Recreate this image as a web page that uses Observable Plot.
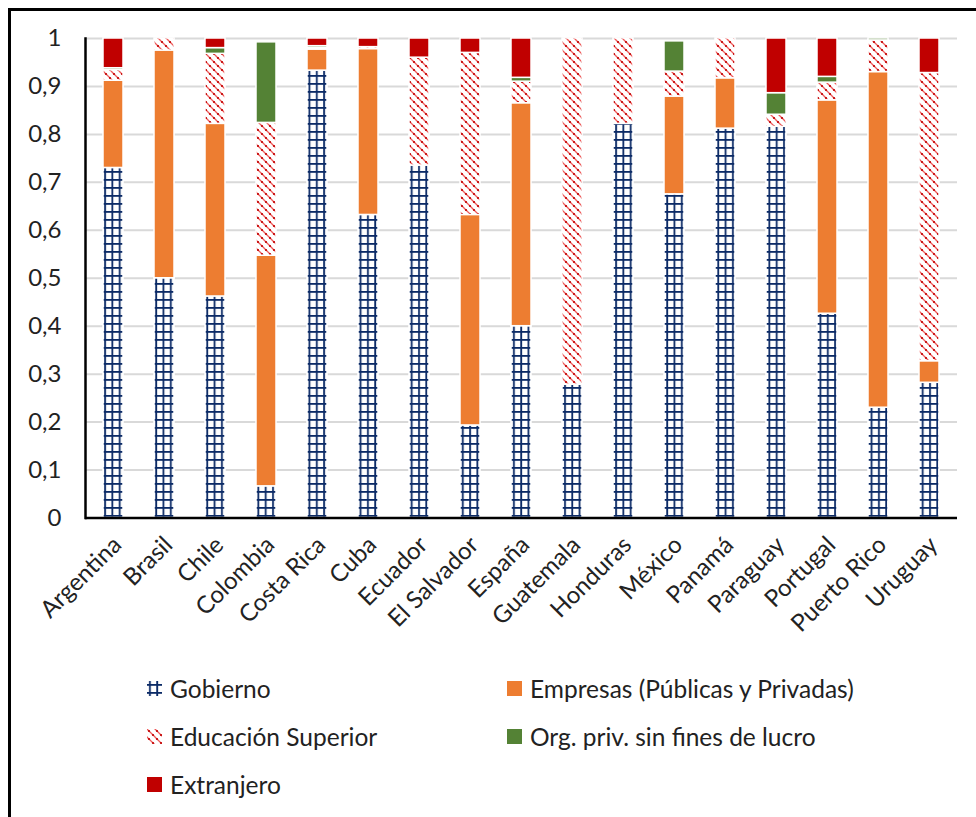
<!DOCTYPE html>
<html>
<head>
<meta charset="utf-8">
<script src="https://cdn.jsdelivr.net/npm/d3@7"></script>
<script src="https://cdn.jsdelivr.net/npm/@observablehq/plot@0.6"></script>
<style>
  html, body { margin: 0; padding: 0; background: #fff; }
  body { width: 976px; height: 817px; position: relative; overflow: hidden; font-family: Lato, "Noto Sans", sans-serif; }
  #frame { position: absolute; left: 8px; top: 8px; width: 1000px; height: 900px; border: 3px solid #000; box-sizing: border-box; }
  #chart { position: absolute; left: 0; top: 0; }
  .leg { position: absolute; display: flex; align-items: center; font-size: 24.5px; color: #222; white-space: nowrap; }
  .leg svg { margin-right: 8px; }
</style>
</head>
<body>
<div id="frame"></div>
<div id="chart"></div>
<div id="legend"></div>
<script>
const countries = ["Argentina","Brasil","Chile","Colombia","Costa Rica","Cuba","Ecuador","El Salvador","España","Guatemala","Honduras","México","Panamá","Paraguay","Portugal","Puerto Rico","Uruguay"];
const seriesNames = ["Gobierno","Empresas (Públicas y Privadas)","Educación Superior","Org. priv. sin fines de lucro","Extranjero"];
const gobierno   = [0.730,0.500,0.462,0.066,0.933,0.632,0.735,0.193,0.400,0.278,0.822,0.675,0.812,0.816,0.426,0.230,0.282];
const empresas   = [0.182,0.475,0.360,0.481,0.044,0.346,0.000,0.439,0.465,0.000,0.000,0.204,0.105,0.000,0.445,0.700,0.045];
const educacion  = [0.022,0.025,0.146,0.277,0.003,0.004,0.225,0.338,0.045,0.722,0.178,0.052,0.083,0.025,0.037,0.066,0.601];
const orgPriv    = [0.004,0.000,0.012,0.168,0.004,0.000,0.000,0.000,0.008,0.000,0.000,0.063,0.000,0.045,0.012,0.004,0.000];
const extranjero = [0.062,0.000,0.020,0.000,0.016,0.018,0.040,0.030,0.082,0.000,0.000,0.000,0.000,0.114,0.080,0.000,0.072];
const yTicks = [0,0.1,0.2,0.3,0.4,0.5,0.6,0.7,0.8,0.9,1];

const seriesValues = [gobierno, empresas, educacion, orgPriv, extranjero];
const fills = ["url(#pat-gob)", "#ED7D31", "url(#pat-edu)", "#548235", "#C00000"];

const data = [];
countries.forEach((c, i) => {
  seriesNames.forEach((s, j) => {
    const v = seriesValues[j][i];
    if (v > 0) data.push({country: c, series: s, value: v});
  });
});

const fmt = d => d === 0 ? "0" : d === 1 ? "1" : d3.format(".1f")(d).replace(".", ",");

const svg = Plot.plot({
  width: 976,
  height: 650,
  marginLeft: 85,
  marginRight: 19,
  marginTop: 38,
  marginBottom: 132.5,
  style: {fontFamily: "Lato, 'Noto Sans', sans-serif", fontSize: "24px", color: "#222", background: "transparent", overflow: "visible"},
  x: {domain: countries, paddingInner: 0.6, paddingOuter: 0.3, label: null},
  y: {domain: [0, 1], label: null},
  color: {domain: seriesNames, range: fills},
  marks: [
    Plot.gridY(yTicks.filter(d => d > 0), {stroke: "#d9d9d9", strokeOpacity: 1, strokeWidth: 2}),
    Plot.barY(data, {x: "country", y: "value", fill: "series", stroke: "white", strokeWidth: 1.5}),
    Plot.axisY(yTicks, {tickSize: 0, tickPadding: 24, tickFormat: fmt, label: null}),
    Plot.axisX({tickSize: 0, tickRotate: -45, tickPadding: 14, dx: 4, dy: 9, label: null}),
    Plot.ruleY([0], {stroke: "black", strokeWidth: 2.5}),
    Plot.frame({anchor: "left", stroke: "black", strokeWidth: 2.5})
  ]
});

const defs = d3.select(svg).insert("defs", ":first-child");
const pg = defs.append("pattern").attr("id", "pat-gob").attr("patternUnits", "userSpaceOnUse")
  .attr("width", 7.3).attr("height", 8);
pg.append("rect").attr("width", 7.3).attr("height", 8).attr("fill", "white");
pg.append("rect").attr("x", 2).attr("y", 0).attr("width", 1.8).attr("height", 8).attr("fill", "#0b2a66");
pg.append("rect").attr("x", 0).attr("y", 3).attr("width", 7.3).attr("height", 1.8).attr("fill", "#0b2a66");

const pe = defs.append("pattern").attr("id", "pat-edu").attr("patternUnits", "userSpaceOnUse")
  .attr("width", 8).attr("height", 8);
pe.append("rect").attr("width", 8).attr("height", 8).attr("fill", "white");
pe.append("path").attr("d", "M-1,-1L9,9M-1,7L1,9M7,-1L9,1")
  .attr("stroke", "#f05a5a").attr("stroke-width", 1.3).attr("fill", "none");
pe.append("circle").attr("cx", 2).attr("cy", 2).attr("r", 1.1).attr("fill", "#c00000");
pe.append("circle").attr("cx", 6).attr("cy", 6).attr("r", 1.1).attr("fill", "#c00000");

document.getElementById("chart").appendChild(svg);

// Legend
const legendPos = [
  {x: 147, y: 688}, {x: 507, y: 688},
  {x: 147, y: 736}, {x: 507, y: 736},
  {x: 147, y: 784}
];
const legend = d3.select("#legend");
seriesNames.forEach((s, j) => {
  const p = legendPos[j];
  const item = legend.append("div").attr("class", "leg")
    .style("left", p.x + "px").style("top", (p.y - 15) + "px").style("height", "30px");
  const sw = item.append("svg").attr("width", 15).attr("height", 15);
  sw.append("rect").attr("width", 15).attr("height", 15).attr("fill", fills[j]);
  item.append("span").text(s);
});
</script>
</body>
</html>
